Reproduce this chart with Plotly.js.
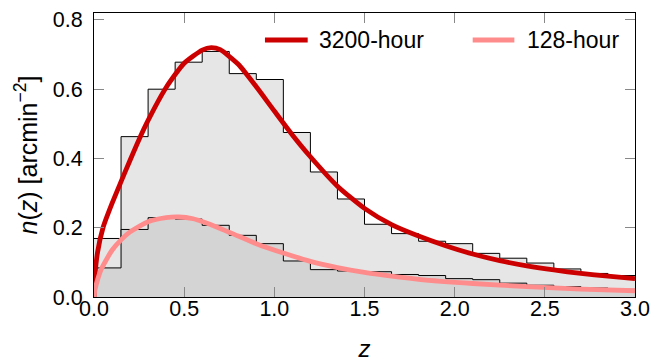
<!DOCTYPE html>
<html>
<head>
<meta charset="utf-8">
<script src="https://cdn.plot.ly/plotly-3.0.1.min.js"></script>
<style>html,body{margin:0;padding:0;background:#fff;}#chart{width:652px;height:362px;}</style>
</head>
<body>
<div id="chart"></div>
<script>
// Histogram bin edges (z)
const binEdges = [0.00,0.15,0.30,0.45,0.60,0.75,0.90,1.05,1.20,1.35,1.50,1.65,1.80,1.95,2.10,2.25,2.40,2.55,2.70,2.85,3.00];
// Histogram heights, n(z) [arcmin^-2]
const hist3200 = [0.169,0.463,0.600,0.678,0.709,0.645,0.628,0.475,0.361,0.283,0.210,0.183,0.161,0.154,0.126,0.112,0.098,0.081,0.068,0.062];
const hist128  = [0.084,0.195,0.229,0.225,0.207,0.178,0.154,0.104,0.079,0.075,0.073,0.065,0.062,0.053,0.050,0.040,0.034,0.030,0.026,0.022];
// Smooth fitted curves
const curveZ3200 = [0,0.005,0.02,0.05,0.1,0.15,0.2,0.25,0.3,0.4,0.5,0.6,0.65,0.7,0.8,0.9,1.0,1.1,1.2,1.35,1.5,1.65,1.8,1.95,2.1,2.25,2.4,2.55,2.7,2.85,3.0];
const curveN3200 = [0,0.06,0.13,0.2,0.27,0.333,0.395,0.455,0.51,0.605,0.675,0.713,0.72,0.714,0.672,0.607,0.537,0.468,0.405,0.320,0.256,0.209,0.176,0.148,0.124,0.105,0.090,0.078,0.068,0.060,0.053];
const curveZ128 = [0,0.005,0.02,0.04,0.1,0.15,0.2,0.3,0.4,0.47,0.55,0.6,0.7,0.8,0.9,1.05,1.2,1.35,1.5,1.65,1.8,2.1,2.4,2.7,3.0];
const curveN128 = [0,0.02,0.05,0.08,0.135,0.165,0.188,0.217,0.229,0.231,0.226,0.218,0.198,0.176,0.154,0.127,0.103,0.085,0.071,0.060,0.051,0.039,0.030,0.023,0.018];
const seriesNames = ["3200-hour","128-hour"];
const xTicks = [0,0.5,1.0,1.5,2.0,2.5,3.0];
const yTicks = [0,0.2,0.4,0.6,0.8];

const red = "#cc0000", pink = "#ff8c8c";
const font = "Liberation Sans, Arial, sans-serif";

function stepY(v){ return v.concat([v[v.length-1]]); }

const traces = [
  {x: binEdges, y: stepY(hist3200), type:"scatter", mode:"lines", line:{shape:"hv", color:"#000", width:1},
   fill:"tozeroy", fillcolor:"#e6e6e6", hoverinfo:"skip", showlegend:false},
  {x: binEdges, y: stepY(hist128), type:"scatter", mode:"lines", line:{shape:"hv", color:"#000", width:1},
   fill:"tozeroy", fillcolor:"#d4d4d4", hoverinfo:"skip", showlegend:false},
  {x: curveZ3200, y: curveN3200, type:"scatter", mode:"lines", name: seriesNames[0],
   line:{color:red, width:4.8, shape:"spline", smoothing:0.6}, showlegend:false},
  {x: curveZ128, y: curveN128, type:"scatter", mode:"lines", name: seriesNames[1],
   line:{color:pink, width:4.8, shape:"spline", smoothing:0.6}, showlegend:false}
];

const axisCommon = {
  showline:true, linecolor:"#000", linewidth:1, mirror:"allticks",
  ticks:"inside", ticklen:10, tickcolor:"#888", tickwidth:1,
  showgrid:false, zeroline:false,
  tickfont:{family:font, size:21.5, color:"#000"}
};

const layout = {
  width:652, height:362,
  margin:{l:94, r:17, t:13, b:65},
  paper_bgcolor:"#fff", plot_bgcolor:"#fff",
  font:{family:font, color:"#000"},
  showlegend:false,
  xaxis: Object.assign({}, axisCommon, {
    range:[0,3], tickvals:xTicks, ticktext:xTicks.map(v=>v.toFixed(1)),
    ticklabelstandoff:-8,
    title:{text:"<i>z</i>", font:{family:font, size:24}, standoff:28}
  }),
  yaxis: Object.assign({}, axisCommon, {
    range:[0,0.82], tickvals:yTicks, ticktext:yTicks.map(v=>v.toFixed(1)),
    ticklabelstandoff:6,
    title:{text:"<i>n</i>(<i>z</i>) [arcmin<sup>−2</sup>]", font:{family:font, size:25}, standoff:8}
  }),
  shapes:[
    {type:"line", xref:"paper", yref:"paper", x0:0.316, x1:0.395, y0:0.905, y1:0.905, line:{color:red, width:5}},
    {type:"line", xref:"paper", yref:"paper", x0:0.700, x1:0.777, y0:0.905, y1:0.905, line:{color:pink, width:5}}
  ],
  annotations:[
    {xref:"paper", yref:"paper", x:0.413, y:0.905, xanchor:"left", yanchor:"middle", showarrow:false,
     text:seriesNames[0], font:{family:font, size:23, color:"#000"}},
    {xref:"paper", yref:"paper", x:0.797, y:0.905, xanchor:"left", yanchor:"middle", showarrow:false,
     text:seriesNames[1], font:{family:font, size:23, color:"#000"}}
  ]
};

Plotly.newPlot("chart", traces, layout, {staticPlot:true, displayModeBar:false});
</script>
</body>
</html>
